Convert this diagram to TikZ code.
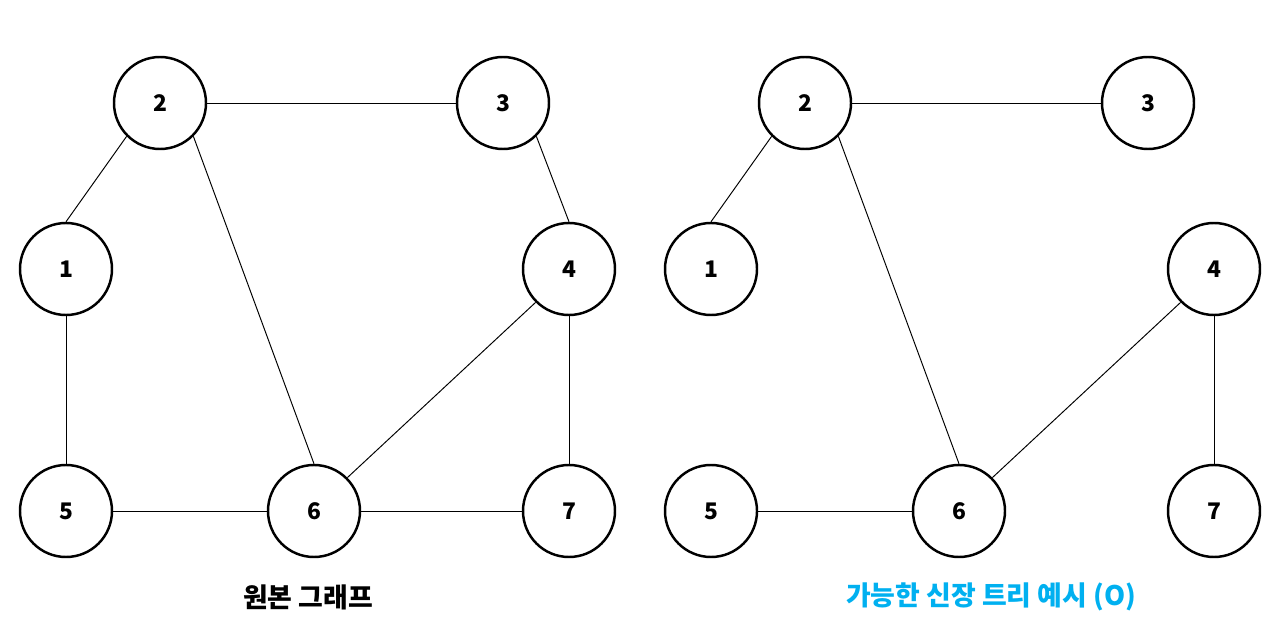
\documentclass[tikz,border=0pt]{standalone}
\usepackage{fontspec}
\setmainfont{Noto Sans CJK KR}
\definecolor{treeblue}{HTML}{00B0F0}
\begin{document}
\begin{tikzpicture}[
    vtx/.style={circle, draw, line width=1.4pt, minimum size=1.84cm, inner sep=0pt, font=\bfseries\fontsize{13}{15}\selectfont},
    edge/.style={line width=0.55pt},
    caption/.style={font=\bfseries\fontsize{15.3}{18}\selectfont}
  ]
    \useasboundingbox (0,0) rectangle (25.54,-12.68);
    % original graph
    \begin{scope}
      \node[vtx] (a2) at (3.2,-2.06) {2};
      \node[vtx] (a3) at (10.06,-2.06) {3};
      \node[vtx] (a1) at (1.32,-5.38) {1};
      \node[vtx] (a4) at (11.38,-5.38) {4};
      \node[vtx] (a5) at (1.32,-10.22) {5};
      \node[vtx] (a6) at (6.28,-10.22) {6};
      \node[vtx] (a7) at (11.38,-10.22) {7};
      \draw[edge] (a2) -- (a3);
      \draw[edge] (a2.south west) -- (a1.north);
      \draw[edge] (a2.south east) -- (a6.north);
      \draw[edge] (a3.south east) -- (a4.north);
      \draw[edge] (a1) -- (a5);
      \draw[edge] (a5) -- (a6);
      \draw[edge] (a6.north east) -- (a4.south west);
      \draw[edge] (a6) -- (a7);
      \draw[edge] (a4) -- (a7);
      \node[caption] (capa) at (6.16,-11.94) {원본 그래프};
    \end{scope}
    % spanning tree
    \begin{scope}[xshift=12.9cm]
      \node[vtx] (b2) at (3.2,-2.06) {2};
      \node[vtx] (b3) at (10.06,-2.06) {3};
      \node[vtx] (b1) at (1.32,-5.38) {1};
      \node[vtx] (b4) at (11.38,-5.38) {4};
      \node[vtx] (b5) at (1.32,-10.22) {5};
      \node[vtx] (b6) at (6.28,-10.22) {6};
      \node[vtx] (b7) at (11.38,-10.22) {7};
      \draw[edge] (b2) -- (b3);
      \draw[edge] (b2.south west) -- (b1.north);
      \draw[edge] (b2.south east) -- (b6.north);
      \draw[edge] (b5) -- (b6);
      \draw[edge] (b6.north east) -- (b4.south west);
      \draw[edge] (b4) -- (b7);
      \node[caption, text=treeblue] (capb) at (6.92,-11.94) {가능한 신장 트리 예시 (O)};
    \end{scope}
  \end{tikzpicture}
\end{document}
